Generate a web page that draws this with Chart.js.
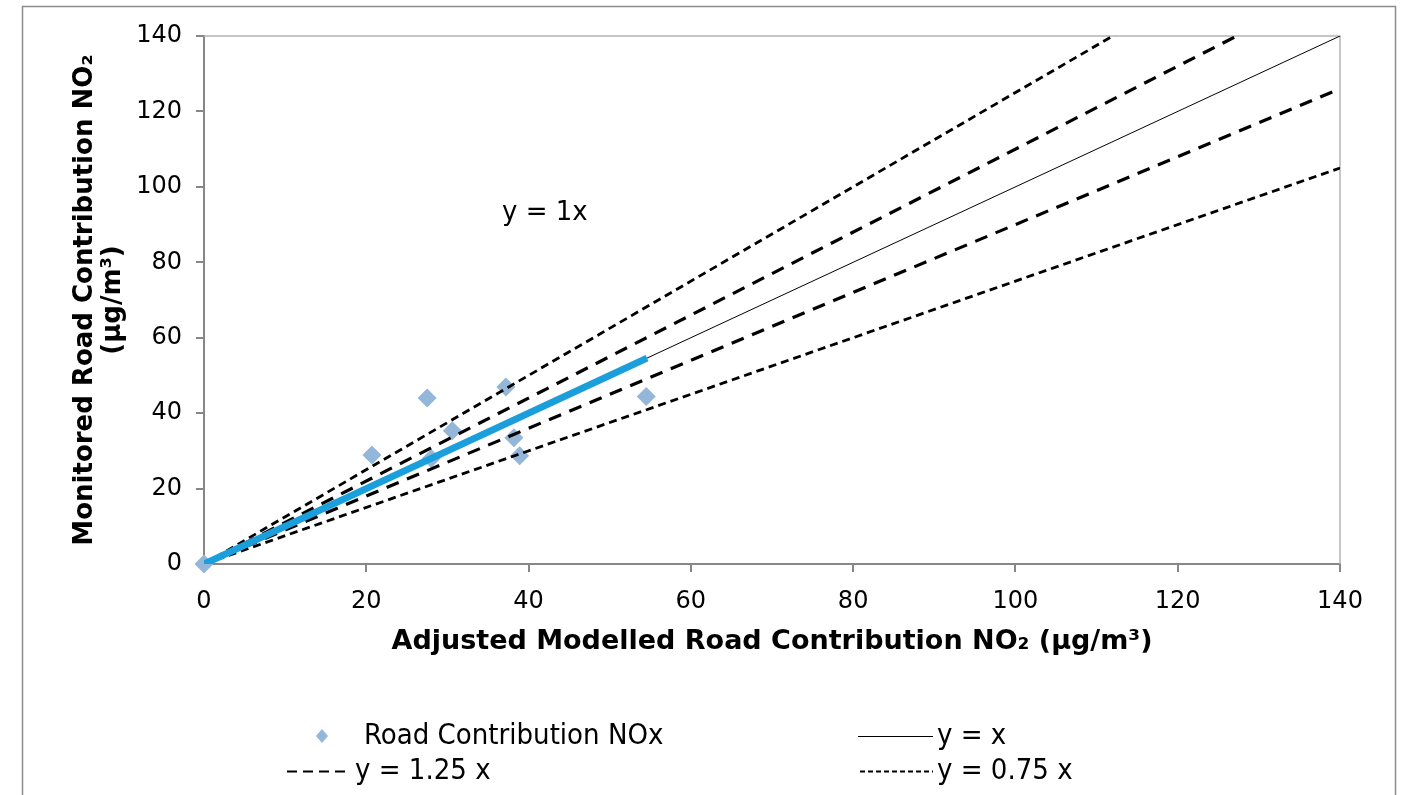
<!DOCTYPE html>
<html>
<head>
<meta charset="utf-8">
<script src="https://cdn.jsdelivr.net/npm/chart.js@4.4.0/dist/chart.umd.min.js"></script>
<style>
  body { margin: 0; background: #fff; }
  #wrap { width: 1404px; height: 795px; position: relative; }
</style>
</head>
<body>
<div id="wrap"><canvas id="roadChart" width="1404" height="795"></canvas></div>
<script>
// monitored vs adjusted modelled road NO2 at each site (µg/m3)
const modelledNO2 = [0, 20.7, 27.5, 28.0, 30.6, 37.2, 38.2, 38.9, 54.5];
const monitoredNO2 = [0, 28.9, 44.0, 28.0, 35.3, 46.9, 33.5, 28.7, 44.4];

// fitted trend line through the origin
const trendSlope = 1;
const trendX = [0, 54.6];
const trendText = 'y = 1x';
const trendTextAt = [42, 93];

// guide lines y = k x across the whole axis range
const guideSlopes = [1.25, 1.1, 1, 0.9, 0.75];
const guideX = [0, 140];

const axisMin = 0;
const axisMax = 140;
const axisStep = 20;

const FONT = 'Verdana, "DejaVu Sans", sans-serif';
const blue = '#1a9fdc';
const pointBlue = '#94b6d8';

function guideStyle(k) {
    if (k === 1) return { borderWidth: 1, borderDash: [] };
    if (k === 1.25 || k === 0.75) return { borderWidth: 2.8, borderDash: [8, 5] };
    return { borderWidth: 3.2, borderDash: [13, 9] };
}

const guideSets = guideSlopes.map(k => Object.assign({
    type: 'line',
    label: k === 1 ? 'y = x' : 'y = ' + k + ' x',
    data: guideX.map(x => ({ x: x, y: k * x })),
    borderColor: '#000',
    showLine: true,
    pointRadius: 0,
    order: 1
}, guideStyle(k)));

// legend entries (two columns under the plot)
const legendItems = [
    { text: 'Road Contribution NOx', x: 322, y: 736, kind: 'point' },
    { text: 'y = x', x: 858, y: 736, kind: 'line', len: 75, width: 1, dash: [] },
    { text: 'y = 1.25 x', x: 287, y: 771, kind: 'line', len: 64, width: 2.2, dash: [10, 6] },
    { text: 'y = 0.75 x', x: 860, y: 771, kind: 'line', len: 73, width: 2.2, dash: [5, 3] }
];

const framePlugin = {
    id: 'frame',
    beforeDraw(chart) {
        const ctx = chart.ctx;
        ctx.save();
        ctx.fillStyle = '#fff';
        ctx.fillRect(0, 0, chart.width, chart.height);
        ctx.strokeStyle = '#8c8c8c';
        ctx.lineWidth = 1.5;
        ctx.strokeRect(22.5, 6.5, 1373, 800);
        ctx.restore();
    },
    beforeDatasetsDraw(chart) {
        const { ctx, chartArea: a } = chart;
        ctx.save();
        ctx.strokeStyle = '#b4b4b4';
        ctx.lineWidth = 1.5;
        ctx.beginPath();
        ctx.moveTo(a.left, a.top);
        ctx.lineTo(a.right, a.top);
        ctx.lineTo(a.right, a.bottom);
        ctx.stroke();
        ctx.restore();
    },
    afterDraw(chart) {
        const { ctx, scales } = chart;
        ctx.save();
        // trend equation
        ctx.font = '26px ' + FONT;
        ctx.fillStyle = '#000';
        ctx.textBaseline = 'middle';
        ctx.textAlign = 'center';
        ctx.fillText(trendText, scales.x.getPixelForValue(trendTextAt[0]), scales.y.getPixelForValue(trendTextAt[1]));

        // legend
        ctx.textAlign = 'left';
        ctx.font = '29px "DejaVu Sans Condensed", "DejaVu Sans", sans-serif';
        legendItems.forEach(item => {
            let textX;
            if (item.kind === 'point') {
                ctx.fillStyle = pointBlue;
                ctx.beginPath();
                ctx.moveTo(item.x, item.y - 7);
                ctx.lineTo(item.x + 6, item.y);
                ctx.lineTo(item.x, item.y + 7);
                ctx.lineTo(item.x - 6, item.y);
                ctx.closePath();
                ctx.fill();
                textX = item.x + 42;
            } else {
                ctx.strokeStyle = '#000';
                ctx.lineWidth = item.width;
                ctx.setLineDash(item.dash);
                ctx.beginPath();
                ctx.moveTo(item.x, Math.round(item.y) + 0.5);
                ctx.lineTo(item.x + item.len, Math.round(item.y) + 0.5);
                ctx.stroke();
                ctx.setLineDash([]);
                textX = item.x + item.len + 4;
            }
            ctx.fillStyle = '#000';
            ctx.fillText(item.text, textX, item.y);
        });
        ctx.restore();
    }
};

const ctx = document.getElementById('roadChart').getContext('2d');

const roadChart = new Chart(ctx, {
    type: 'scatter',
    data: {
        datasets: [
            {
                type: 'line',
                label: trendText,
                data: trendX.map(x => ({ x: x, y: trendSlope * x })),
                borderColor: blue,
                borderWidth: 7,
                showLine: true,
                pointRadius: 0,
                order: 0
            },
            ...guideSets,
            {
                label: 'Road Contribution NOx',
                data: modelledNO2.map((x, i) => ({ x: x, y: monitoredNO2[i] })),
                pointStyle: 'rectRot',
                pointRadius: 9.5,
                backgroundColor: pointBlue,
                borderColor: pointBlue,
                borderWidth: 0,
                clip: false,
                order: 2
            }
        ]
    },
    options: {
        responsive: false,
        animation: false,
        layout: { padding: { left: 0, right: 64, top: 36, bottom: 131 } },
        plugins: {
            legend: { display: false },
            tooltip: { enabled: false }
        },
        scales: {
            x: {
                type: 'linear',
                min: axisMin,
                max: axisMax,
                afterFit: s => { s.height = 100; },
                ticks: { stepSize: axisStep, color: '#000', padding: 15, font: { family: FONT, size: 24 } },
                grid: { drawOnChartArea: false, color: '#868686', lineWidth: 2, tickLength: 8 },
                border: { color: '#868686', width: 2 },
                title: {
                    display: true,
                    text: 'Adjusted Modelled Road Contribution NO\u2082 (\u00b5g/m\u00b3)',
                    color: '#000',
                    padding: { top: 0, bottom: 6 },
                    font: { family: FONT, size: 27, weight: 'bold' }
                }
            },
            y: {
                type: 'linear',
                min: axisMin,
                max: axisMax,
                afterFit: s => { s.width = 204; },
                ticks: { stepSize: axisStep, color: '#000', padding: 14, font: { family: FONT, size: 24 } },
                grid: { drawOnChartArea: false, color: '#868686', lineWidth: 2, tickLength: 8 },
                border: { color: '#868686', width: 2 },
                title: {
                    display: true,
                    text: ['Monitored Road Contribution NO\u2082', '(\u00b5g/m\u00b3)'],
                    color: '#000',
                    padding: { top: 71, bottom: 0 },
                    font: { family: FONT, size: 26, weight: 'bold', lineHeight: 1.08 }
                }
            }
        }
    },
    plugins: [framePlugin]
});
</script>
</body>
</html>
